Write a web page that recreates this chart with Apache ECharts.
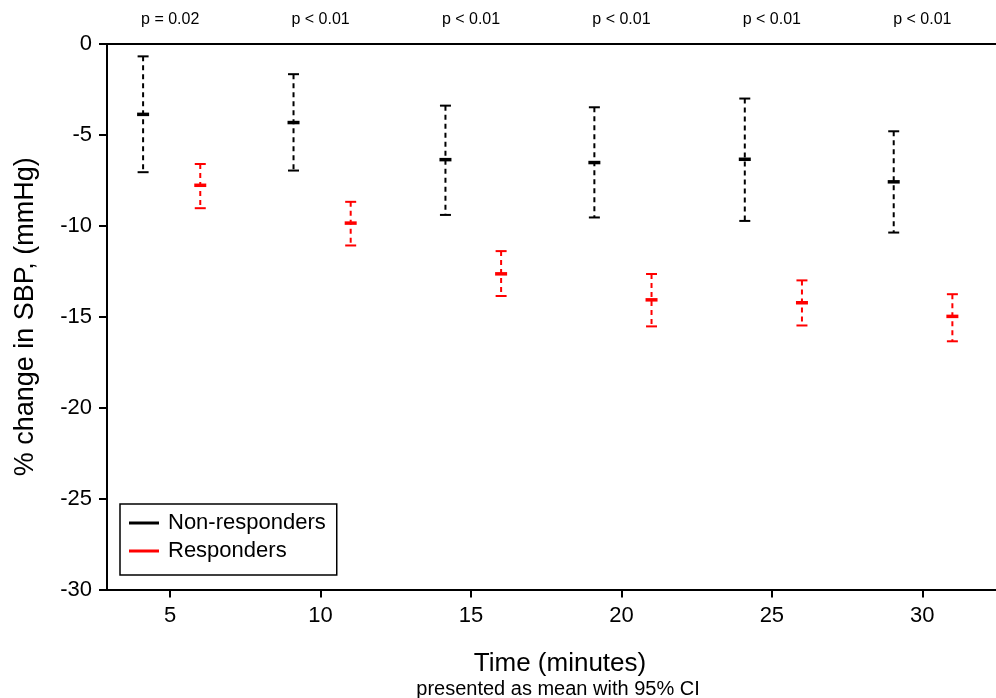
<!DOCTYPE html>
<html>
<head>
<meta charset="utf-8">
<script src="https://cdn.jsdelivr.net/npm/echarts@6/dist/echarts.min.js"></script>
<style>
html,body{margin:0;padding:0;background:#fff;}
#main{width:996px;height:698px;}
</style>
</head>
<body>
<div id="main"></div>
<script>
// Time points (minutes) and p-values shown above each
var timepoints = [5, 10, 15, 20, 25, 30];
var pLabels = ['p = 0.02', 'p < 0.01', 'p < 0.01', 'p < 0.01', 'p < 0.01', 'p < 0.01'];

// Plotted x positions (dodged around each time point)
var nonRespX = [4.1, 9.1, 14.15, 19.1, 24.1, 29.05];
var respX = [6, 11, 16, 21, 26, 31];

// Non-responders: mean, lower 95% CI, upper 95% CI
var nonRespMean = [-3.87, -4.32, -6.36, -6.52, -6.34, -7.58];
var nonRespLow = [-7.05, -6.96, -9.40, -9.54, -9.73, -10.37];
var nonRespHigh = [-0.68, -1.66, -3.39, -3.48, -3.00, -4.80];

// Responders: mean, lower 95% CI, upper 95% CI
var respMean = [-7.77, -9.85, -12.64, -14.07, -14.23, -14.98];
var respLow = [-9.03, -11.08, -13.86, -15.53, -15.48, -16.35];
var respHigh = [-6.60, -8.68, -11.39, -12.65, -13.00, -13.76];

var yTicks = [0, -5, -10, -15, -20, -25, -30];

function buildData(xs, mean, lo, hi) {
  return xs.map(function (x, i) { return [x, lo[i], hi[i], mean[i]]; });
}

function renderErrorBar(params, api) {
  var x = api.value(0);
  var lo = api.coord([x, api.value(1)]);
  var hi = api.coord([x, api.value(2)]);
  var mid = api.coord([x, api.value(3)]);
  var color = api.visual('color');
  var capW = 5.5;
  var meanW = 6;
  return {
    type: 'group',
    children: [
      { type: 'line', shape: { x1: hi[0], y1: hi[1], x2: lo[0], y2: lo[1] },
        style: { stroke: color, lineWidth: 2, lineDash: [5, 4] } },
      { type: 'line', shape: { x1: hi[0] - capW, y1: hi[1], x2: hi[0] + capW, y2: hi[1] },
        style: { stroke: color, lineWidth: 2 } },
      { type: 'line', shape: { x1: lo[0] - capW, y1: lo[1], x2: lo[0] + capW, y2: lo[1] },
        style: { stroke: color, lineWidth: 2 } },
      { type: 'line', shape: { x1: mid[0] - meanW, y1: mid[1], x2: mid[0] + meanW, y2: mid[1] },
        style: { stroke: color, lineWidth: 3.5 } }
    ]
  };
}

var FONT = 'Liberation Sans, Arial, Helvetica, sans-serif';
var chart = echarts.init(document.getElementById('main'), null, { renderer: 'canvas' });

chart.setOption({
  backgroundColor: '#fff',
  animation: false,
  textStyle: { fontFamily: FONT, color: '#000' },
  grid: { left: 107, right: 0, top: 44, bottom: 108.5, containLabel: false },
  xAxis: [
    {
      type: 'value', min: 2.9, max: 32.45, position: 'bottom',
      splitLine: { show: false },
      axisLine: { show: true, onZero: false, lineStyle: { color: '#000', width: 2 } },
      axisTick: { show: true, length: 8, customValues: timepoints, lineStyle: { color: '#000', width: 2 } },
      axisLabel: { customValues: timepoints, margin: 15, fontSize: 22, color: '#000', fontFamily: FONT }
    },
    {
      type: 'value', min: 2.9, max: 32.45, position: 'top',
      splitLine: { show: false },
      axisLine: { show: true, onZero: false, lineStyle: { color: '#000', width: 2 } },
      axisTick: { show: false },
      axisLabel: {
        customValues: timepoints, margin: 16, fontSize: 16, color: '#000', fontFamily: FONT,
        formatter: function (v) { return pLabels[timepoints.indexOf(v)]; }
      }
    }
  ],
  yAxis: {
    type: 'value', min: -30, max: 0,
    name: '% change in SBP, (mmHg)', nameLocation: 'middle', nameGap: 68,
    nameTextStyle: { fontSize: 27, color: '#000', fontFamily: FONT },
    splitLine: { show: false },
    axisLine: { show: true, onZero: false, lineStyle: { color: '#000', width: 2 } },
    axisTick: { show: true, length: 8, customValues: yTicks, lineStyle: { color: '#000', width: 2 } },
    axisLabel: { customValues: yTicks, margin: 15, fontSize: 22, color: '#000', fontFamily: FONT }
  },
  legend: {
    orient: 'vertical', left: 120, top: 504,
    padding: [8, 11, 13, 9], itemGap: 6,
    borderColor: '#000', borderWidth: 1.5,
    icon: 'rect', itemWidth: 30, itemHeight: 3,
    textStyle: { fontSize: 22, color: '#000', fontFamily: FONT, lineHeight: 22, padding: [0, 0, 0, 4] },
    data: ['Non-responders', 'Responders']
  },
  graphic: [
    { type: 'text', x: 560, y: 664, style: { text: 'Time (minutes)', fontSize: 26, fill: '#000', fontFamily: FONT, align: 'center', verticalAlign: 'middle' } },
    { type: 'text', x: 558, y: 689, style: { text: 'presented as mean with 95% CI', fontSize: 20, fill: '#000', fontFamily: FONT, align: 'center', verticalAlign: 'middle' } }
  ],
  series: [
    {
      name: 'Non-responders', type: 'custom', xAxisIndex: 0,
      itemStyle: { color: '#000' },
      renderItem: renderErrorBar,
      encode: { x: 0, y: [1, 2, 3] },
      data: buildData(nonRespX, nonRespMean, nonRespLow, nonRespHigh)
    },
    {
      name: 'Responders', type: 'custom', xAxisIndex: 0,
      itemStyle: { color: '#ff0000' },
      renderItem: renderErrorBar,
      encode: { x: 0, y: [1, 2, 3] },
      data: buildData(respX, respMean, respLow, respHigh)
    }
  ]
});
</script>
</body>
</html>
